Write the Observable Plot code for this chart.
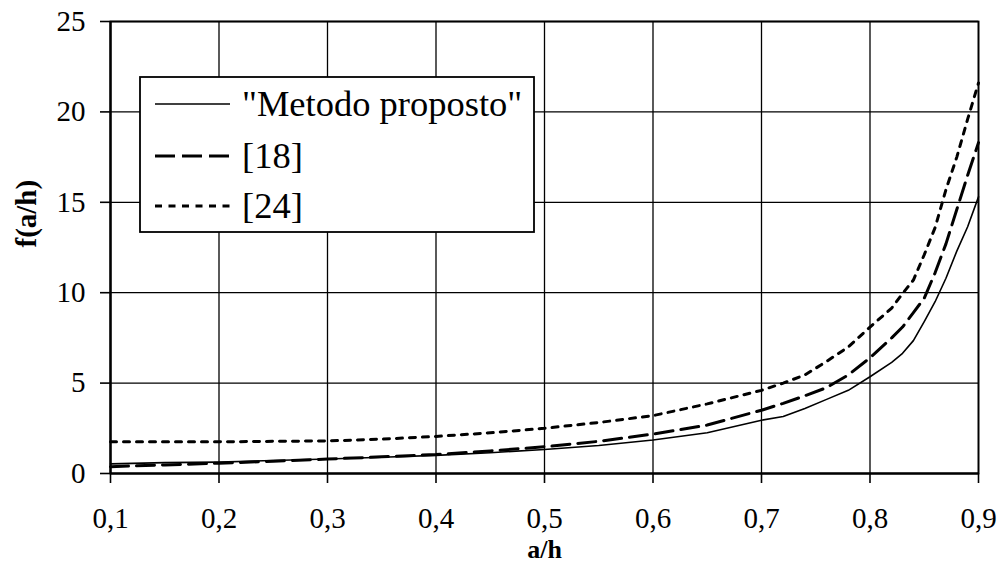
<!DOCTYPE html>
<html><head><meta charset="utf-8">
<script src="https://cdn.jsdelivr.net/npm/d3@7"></script>
<script src="https://cdn.jsdelivr.net/npm/@observablehq/plot@0.6"></script>
<style>
body{margin:0;background:#fff}
#chart svg, #chart svg text{font-family:"Liberation Serif","Times New Roman",serif !important}
</style>
</head><body><div id="chart"></div>
<script>
// a/h values (x)
const aH = [0.10,0.15,0.20,0.25,0.30,0.35,0.40,0.45,0.50,0.55,0.60,0.65,0.70,0.72,0.74,0.76,0.78,0.80,0.82,0.83,0.84,0.85,0.86,0.87,0.88,0.89,0.90];
// "Metodo proposto" (solid)
const metodo = [0.53,0.60,0.63,0.72,0.80,0.90,1.00,1.15,1.33,1.55,1.85,2.25,2.95,3.15,3.60,4.10,4.60,5.35,6.15,6.65,7.35,8.40,9.50,10.8,12.3,13.65,15.3];
// [18] (dashed)
const ref18 = [0.38,0.47,0.57,0.68,0.80,0.92,1.05,1.25,1.48,1.78,2.18,2.68,3.50,3.88,4.30,4.75,5.45,6.40,7.50,8.10,8.90,9.70,11.1,12.7,14.6,16.5,18.3];
// [24] (dotted)
const ref24 = [1.75,1.75,1.75,1.78,1.80,1.90,2.05,2.25,2.50,2.82,3.20,3.85,4.60,5.00,5.45,6.20,7.00,8.10,9.15,9.95,10.7,12.1,13.6,15.7,17.5,19.6,21.6];

const seriesNames = ['"Metodo proposto"', "[18]", "[24]"];
const xTicks = [0.1,0.2,0.3,0.4,0.5,0.6,0.7,0.8,0.9];
const yTicks = [0,5,10,15,20,25];
const xLabel = "a/h";
const yLabel = "f(a/h)";

const seriesValues = [metodo, ref18, ref24];
const rows = [];
seriesNames.forEach((s, i) => aH.forEach((a, j) => rows.push({s, a, f: seriesValues[i][j]})));

const styles = [
  {strokeWidth: 1.6, strokeDasharray: null},
  {strokeWidth: 3, strokeDasharray: "18,8"},
  {strokeWidth: 3, strokeDasharray: "6,7"}
];

const fmt = d => d.toFixed(1).replace(".", ",");
const serif = '"Liberation Serif","Times New Roman",serif';

const plot = Plot.plot({
  width: 1001,
  height: 563,
  marginLeft: 110,
  marginRight: 23,
  marginTop: 21,
  marginBottom: 90,
  style: {fontFamily: serif, background: "white"},
  x: {domain: [0.1, 0.9]},
  y: {domain: [0, 25]},
  marks: [
    Plot.gridX(xTicks, {stroke: "black", strokeOpacity: 1, strokeWidth: 1.3}),
    Plot.gridY(yTicks, {stroke: "black", strokeOpacity: 1, strokeWidth: 1.3}),
    Plot.frame({stroke: "black", strokeWidth: 1.8}),
    Plot.ruleY([0], {stroke: "black", strokeWidth: 2.2}),
    Plot.ruleX([0.1], {stroke: "black", strokeWidth: 2.2}),
    Plot.axisX({ticks: xTicks, tickFormat: fmt, tickSize: 10, tickPadding: 24, label: null, fontSize: 29, strokeWidth: 1.6, fill: "black"}),
    Plot.axisY({ticks: yTicks, tickSize: 10, tickPadding: 15, label: null, fontSize: 29, strokeWidth: 1.6, fill: "black"}),
    ...seriesNames.map((name, i) => Plot.line(rows, {
      filter: d => d.s === name, x: "a", y: "f", stroke: "black",
      strokeWidth: styles[i].strokeWidth, strokeDasharray: styles[i].strokeDasharray,
      strokeLinejoin: "round", curve: "linear"
    })),
    Plot.text([xLabel], {frameAnchor: "bottom", dy: 84, fontWeight: "bold", fontSize: 26, fill: "black"}),
    Plot.text([yLabel], {frameAnchor: "left", dx: -84, rotate: -90, fontWeight: "bold", fontSize: 29, fill: "black"})
  ]
});

const svg = d3.select(plot);
svg.attr("font-family", serif).style("font-family", serif);

// Legend box drawn inside the plot area
const lg = svg.append("g").attr("class", "legend").attr("text-anchor", "start");
lg.append("rect").attr("x", 140).attr("y", 77).attr("width", 394).attr("height", 155)
  .attr("fill", "white").attr("stroke", "black").attr("stroke-width", 1.8);
const rowY = [104, 156, 206];
seriesNames.forEach((name, i) => {
  lg.append("line").attr("x1", 155).attr("x2", 230).attr("y1", rowY[i]).attr("y2", rowY[i])
    .attr("stroke", "black").attr("stroke-width", i === 0 ? 1.6 : 3)
    .attr("stroke-dasharray", i === 0 ? null : (i === 1 ? "20,7" : "7,6.5"));
  lg.append("text").attr("x", 242).attr("y", rowY[i]).attr("dy", "0.32em")
    .attr("text-anchor", "start").attr("font-size", 36.5).attr("fill", "black").text(name);
});

document.getElementById("chart").appendChild(plot);
</script>
</body></html>
